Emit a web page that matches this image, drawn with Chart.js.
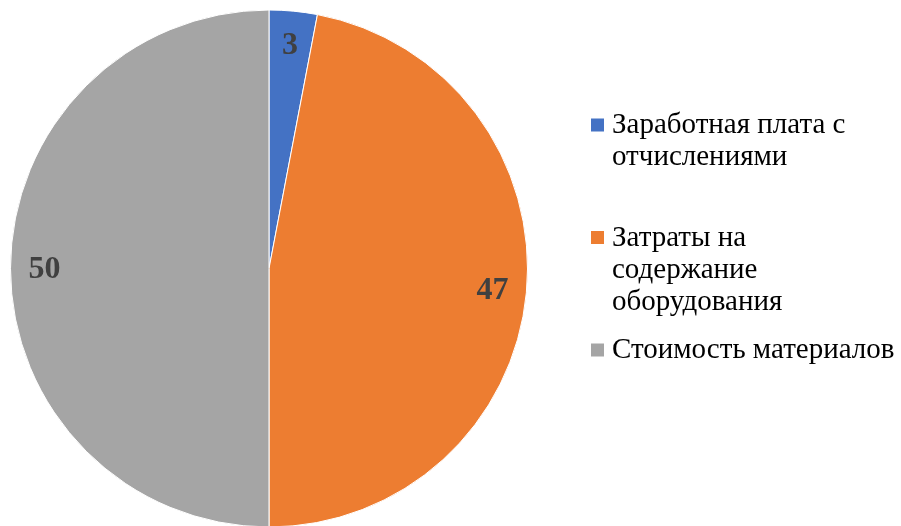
<!DOCTYPE html>
<html>
<head>
<meta charset="utf-8">
<script src="https://cdn.jsdelivr.net/npm/chart.js@4.4.1/dist/chart.umd.min.js"></script>
<style>
  html, body { margin: 0; padding: 0; background: #fff; overflow: hidden; }
  #wrap { position: relative; width: 901px; height: 526px; overflow: hidden; }
  #chart { position: absolute; left: 0; top: 0; }
</style>
</head>
<body>
<div id="wrap">
  <canvas id="chart" width="901" height="528"></canvas>
</div>
<script>
const categories = [
    ['Заработная плата с', 'отчислениями'],
    ['Затраты на', 'содержание', 'оборудования'],
    ['Стоимость материалов']
];
const values = [3, 47, 50];
const colors = ['#4472C4', '#ED7D31', '#A5A5A5'];

const serif = '"Liberation Serif", "Times New Roman", serif';

// value labels inside the slices
const sliceLabels = {
    id: 'sliceLabels',
    afterDatasetsDraw(chart) {
        const ctx = chart.ctx;
        const meta = chart.getDatasetMeta(0);
        ctx.save();
        ctx.font = 'bold 32px ' + serif;
        ctx.fillStyle = '#404040';
        ctx.textAlign = 'center';
        ctx.textBaseline = 'middle';
        meta.data.forEach((arc, i) => {
            const mid = (arc.startAngle + arc.endAngle) / 2;
            const r = arc.outerRadius * 0.868;
            ctx.fillText(String(values[i]), arc.x + Math.cos(mid) * r, arc.y + Math.sin(mid) * r + 1);
        });
        ctx.restore();
    }
};

// legend on the right, one slot per item like in Excel
const sideLegend = {
    id: 'sideLegend',
    afterDraw(chart) {
        const ctx = chart.ctx;
        const items = chart.options.plugins.legend.labels.generateLabels(chart);
        const left = chart.chartArea.right + 63;
        const top = 133;     // first baseline
        const slot = 112.5;
        const lineH = 32;
        ctx.save();
        ctx.font = '29px ' + serif;
        ctx.fillStyle = '#000';
        ctx.textAlign = 'left';
        ctx.textBaseline = 'alphabetic';
        items.forEach((item, i) => {
            const y = top + i * slot;
            ctx.fillStyle = item.fillStyle;
            ctx.fillRect(left, y - 14.5, 13, 13);
            ctx.fillStyle = '#000';
            const lines = Array.isArray(item.text) ? item.text : [item.text];
            lines.forEach((t, k) => ctx.fillText(t, left + 21, y + k * lineH));
        });
        ctx.restore();
    }
};

const ctx = document.getElementById('chart').getContext('2d');
const myChart = new Chart(ctx, {
    type: 'pie',
    data: {
        labels: categories,
        datasets: [{
            data: values,
            backgroundColor: colors,
            borderColor: '#ffffff',
            borderWidth: 1,
            hoverOffset: 0
        }]
    },
    options: {
        responsive: false,
        animation: false,
        events: [],
        layout: {
            padding: { top: 9, left: 10, right: 373, bottom: 0 }
        },
        plugins: {
            legend: { display: false },
            tooltip: { enabled: false }
        }
    },
    plugins: [sliceLabels, sideLegend]
});
</script>
</body>
</html>
